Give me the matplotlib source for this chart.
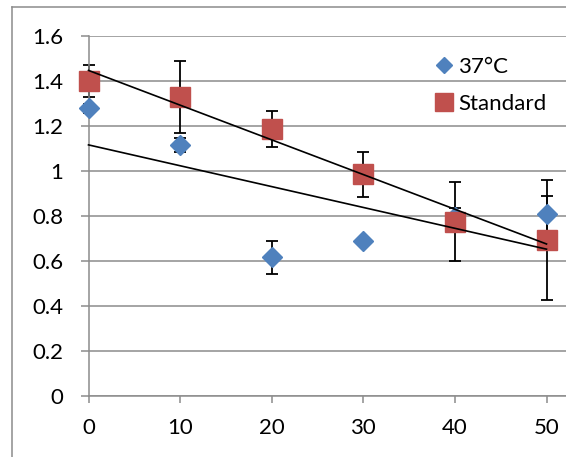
import numpy as np
import matplotlib
matplotlib.use("Agg")
import matplotlib.pyplot as plt
from matplotlib.lines import Line2D

plt.rcParams["font.family"] = ["Lato", "DejaVu Sans"]

# data
x = [0, 10, 20, 30, 40, 50]
warm_y = [1.28, 1.116, 0.616, 0.69, 0.795, 0.809]
warm_err = [0.02, 0.03, 0.073, 0.012, 0.04, 0.08]
std_y = [1.40, 1.33, 1.185, 0.985, 0.775, 0.693]
std_err = [0.07, 0.16, 0.08, 0.10, 0.175, 0.268]
labels = ["37°C", "Standard"]

BLUE = "#4F81BD"
RED = "#C0504D"
GRID = "#8C8C8C"

W, H = 566, 457
fig = plt.figure(figsize=(W / 100, H / 100), dpi=100)
ax = fig.add_axes([88.5 / W, 1 - 396 / H, 1 - 88.5 / W, 360 / H])

for ys, es in ((warm_y, warm_err), (std_y, std_err)):
    eb = ax.errorbar(x, ys, yerr=es, fmt="none", ecolor="black",
                     elinewidth=1.3, capsize=4.6, capthick=1.3, zorder=2)
    for art in eb.lines[1] + eb.lines[2]:
        art.set_clip_on(False)
ax.plot(x, warm_y, ls="none", marker="D", ms=10, color=BLUE,
        label=labels[0], zorder=3, clip_on=False)
ax.plot(x, std_y, ls="none", marker="s", ms=14.5, color=RED,
        label=labels[1], zorder=3, clip_on=False)

# linear trend lines
xs = np.array([x[0], x[-1]])
for ys in (warm_y, std_y):
    k, b = np.polyfit(x, ys, 1)
    ax.plot(xs, k * xs + b, color="black", lw=1.2, zorder=4, clip_on=False)

ax.set_xlim(0, (W - 88.5) / 9.16)
ax.set_ylim(0, 1.6)
ax.set_xticks(x)
ax.set_yticks(np.arange(0, 1.61, 0.2))
ax.set_yticklabels(["0", "0.2", "0.4", "0.6", "0.8", "1", "1.2", "1.4", "1.6"])
ax.yaxis.grid(True, color=GRID, lw=1.1)
ax.set_axisbelow(True)
for s in ("top", "right"):
    ax.spines[s].set_visible(False)
for s in ("left", "bottom"):
    ax.spines[s].set_color(GRID)
    ax.spines[s].set_linewidth(1.1)
ax.tick_params(axis="both", colors=GRID, labelcolor="black", labelsize=16,
               width=1.1)
ax.tick_params(axis="y", length=6, pad=12)
ax.tick_params(axis="x", length=5, pad=11)

ax.legend(loc="upper left", bbox_to_anchor=(424 / W, 1 - 46 / H),
          bbox_transform=fig.transFigure, frameon=False, fontsize=16,
          handlelength=0.8, handletextpad=0.25, labelspacing=0.75,
          borderpad=0, markerscale=0.85)

# chart area border (cropped on right and bottom)
fig.add_artist(Line2D([12 / W, 12 / W], [0, 1 - 7 / H], color=GRID, lw=1.1))
fig.add_artist(Line2D([12 / W, 1], [1 - 7 / H, 1 - 7 / H], color=GRID, lw=1.1))

fig.savefig("out.png", dpi=100)
